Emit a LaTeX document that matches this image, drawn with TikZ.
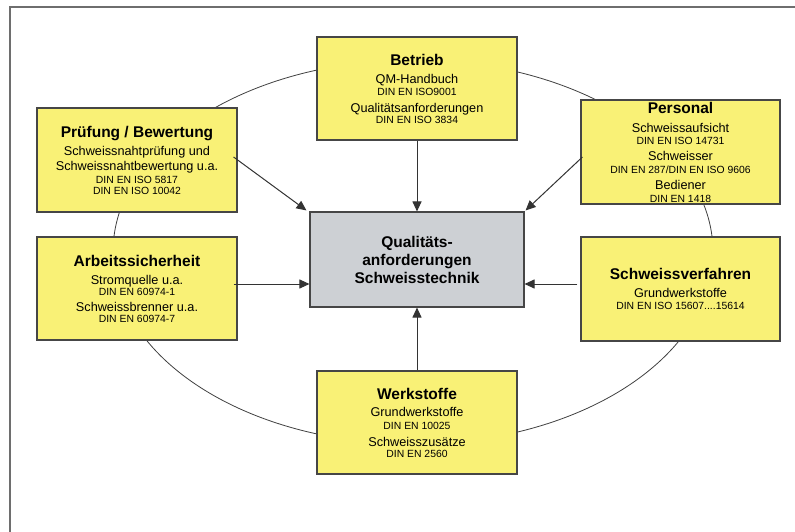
\documentclass[tikz,border=0pt]{standalone}
\usepackage{fontspec}
\setmainfont{Liberation Sans}
\usetikzlibrary{arrows.meta}
\definecolor{boxyellow}{RGB}{249,241,118}
\definecolor{boxgray}{RGB}{205,208,212}
\definecolor{edgegray}{RGB}{70,70,70}
\definecolor{framegray}{RGB}{110,110,110}
\newcommand\bxtitle[1]{{\fontsize{15.5}{11}\selectfont\bfseries #1}}
\newcommand\bxsub[1]{{\fontsize{12.7}{11}\selectfont #1}}
\newcommand\bxdin[1]{{\fontsize{10.4}{11}\selectfont #1}}
\newcommand\bxbase{\fontsize{10}{11}\selectfont}
\lineskiplimit=-100pt
\begin{document}
\begin{tikzpicture}[x=1pt,y=-1pt,
  ybox/.style={draw=edgegray, line width=1.1pt, fill=boxyellow, inner sep=0pt, align=center,
    font=\bxbase},
  cbox/.style={ybox, fill=boxgray},
  conn/.style={draw=black!80, line width=1pt, -{Triangle[length=10pt,width=9pt]}},
  ring/.style={draw=black!75, line width=0.8pt}]
\useasboundingbox (0,0) rectangle (795,532);
\fill[white] (0,0) rectangle (795,532);
\draw[framegray, line width=1.5pt] (10,532) -- (10,7) -- (795,7);
\draw[ring] (413,252) ellipse [x radius=300pt, y radius=192pt];

\node[ybox, minimum width=200pt, minimum height=103pt] (bet) at (417,88.5)
  {\bxtitle{Betrieb}\\[7pt]\bxsub{QM-Handbuch}\\[1pt]\bxdin{DIN EN ISO9001}\\[6pt]\bxsub{Qualitätsanforderungen}\\[0pt]\bxdin{DIN EN ISO 3834}};
\node[ybox, minimum width=200pt, minimum height=104pt] (pruef) at (137,160)
  {\bxtitle{Prüfung / Bewertung}\\[7pt]\bxsub{Schweissnahtprüfung und}\\[4pt]\bxsub{Schweissnahtbewertung u.a.}\\[2pt]\bxdin{DIN EN ISO 5817}\\[0pt]\bxdin{DIN EN ISO 10042}};
\node[ybox, minimum width=199pt, minimum height=104pt] (pers) at (680.5,152)
  {\bxtitle{Personal}\\[8pt]\bxsub{Schweissaufsicht}\\[1pt]\bxdin{DIN EN ISO 14731}\\[5pt]\bxsub{Schweisser}\\[2pt]\bxdin{DIN EN 287/DIN EN ISO 9606}\\[5pt]\bxsub{Bediener}\\[2pt]\bxdin{DIN EN 1418}};
\node[ybox, minimum width=200pt, minimum height=103pt] (arb) at (137,288.5)
  {\bxtitle{Arbeitssicherheit}\\[7pt]\bxsub{Stromquelle u.a.}\\[0pt]\bxdin{DIN EN 60974-1}\\[5pt]\bxsub{Schweissbrenner u.a.}\\[0pt]\bxdin{DIN EN 60974-7}};
\node[ybox, minimum width=199pt, minimum height=104pt] (sv) at (680.5,289)
  {\bxtitle{Schweissverfahren}\\[7pt]\bxsub{Grundwerkstoffe}\\[1pt]\bxdin{DIN EN ISO 15607....15614}};
\node[ybox, minimum width=200pt, minimum height=103pt] (werk) at (417,422.5)
  {\bxtitle{Werkstoffe}\\[6pt]\bxsub{Grundwerkstoffe}\\[2pt]\bxdin{DIN EN 10025}\\[6pt]\bxsub{Schweisszusätze}\\[0pt]\bxdin{DIN EN 2560}};
\node[cbox, minimum width=214pt, minimum height=95pt] (cen) at (417,259.5)
  {\bxtitle{Qualitäts-}\\[7pt]\bxtitle{anforderungen}\\[7pt]\bxtitle{Schweisstechnik}};

\coordinate (a1) at ([shift={(-4,-4.5)}]arb.east);
\coordinate (a2) at ([shift={(-3,-5)}]sv.west);
\draw[conn] (bet.south) -- (cen.north);
\draw[conn] (werk.north) -- (cen.south);
\draw[conn] ([shift={(-4,-3)}]pruef.east) -- ([shift={(-3,-1)}]cen.north west);
\draw[conn] ([shift={(2,5)}]pers.west) -- ([shift={(1,-1)}]cen.north east);
\draw[conn] (a1) -- (a1 -| cen.west);
\draw[conn] (a2) -- (a2 -| cen.east);
\end{tikzpicture}
\end{document}
